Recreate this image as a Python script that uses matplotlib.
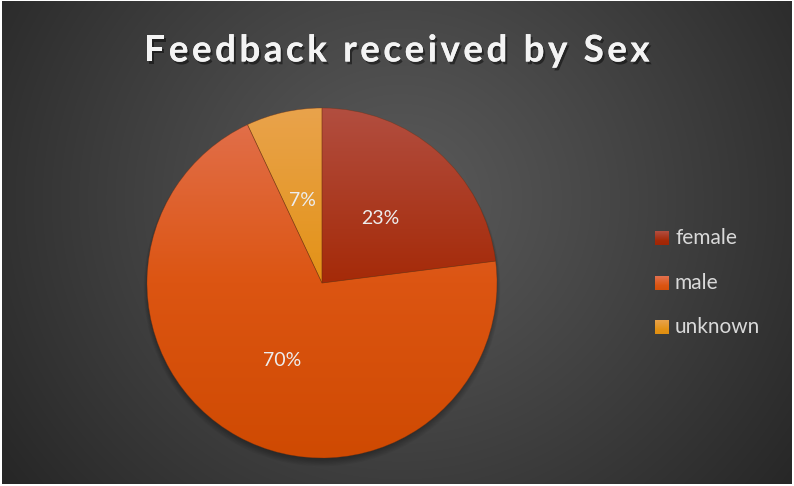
import numpy as np
import matplotlib
matplotlib.use("Agg")
import matplotlib.pyplot as plt
from matplotlib.colors import LinearSegmentedColormap, to_rgb
from matplotlib.patches import Circle, Rectangle
import matplotlib.patheffects as pe

# ---- data ----
categories = ["female", "male", "unknown"]
values = [23, 70, 7]
labels_pct = ["23%", "70%", "7%"]
title = "Feedback received by Sex"

# gradient colours per slice (top, middle, bottom)
grad_colors = [
    ("#B24E40", "#A52A08", "#9C2000"),
    ("#E2714F", "#DC5512", "#CF4A02"),
    ("#E9A34C", "#E39216", "#DC8A0C"),
]

W, H = 794, 486
fig = plt.figure(figsize=(W / 100, H / 100), dpi=100, facecolor="white")
ax = fig.add_axes([0, 0, 1, 1])
ax.set_xlim(0, W)
ax.set_ylim(0, H)
ax.axis("off")

# ---- background radial gradient ----
yy, xx = np.mgrid[0:H, 0:W]
cx, cy = 400, 200  # in image row coords (from top)
r = np.sqrt(((xx - cx) / 1.0) ** 2 + ((yy - cy) / 0.95) ** 2)
t = np.clip(r / 520, 0, 1)
inner, outer = 0x5a / 255, 0x24 / 255
val = inner + (outer - inner) * t ** 1.1
bg = np.dstack([val, val, val])
ax.imshow(bg, extent=(2, W - 2, 2, H - 2), origin="upper", zorder=0, aspect="auto")

# ---- pie ----
center = (322, H - 283)
radius = 175

# soft shadow (mostly below the pie)
for k in range(7):
    ax.add_patch(Circle((center[0], center[1] - 2 - k * 0.5), radius - 1 + k * 0.7,
                        facecolor="black", alpha=0.045, edgecolor="none", zorder=1))

wedges, texts = ax.pie(values, center=center, radius=radius, startangle=90,
                       counterclock=False, labels=None,
                       wedgeprops=dict(linewidth=0.5, edgecolor=(0.45, 0.18, 0.05, 0.45)),
                       frame=True)
ax.set_xlim(0, W)
ax.set_ylim(0, H)
ax.set_aspect("equal")
ax.axis("off")

ext = (center[0] - radius, center[0] + radius, center[1] - radius, center[1] + radius)
cmaps = []
for w, cols in zip(wedges, grad_colors):
    w.set_facecolor("none")
    w.set_zorder(3)
    cmap = LinearSegmentedColormap.from_list("g", [to_rgb(cols[0]), to_rgb(cols[1]), to_rgb(cols[2])])
    cmaps.append(cmap)
    grad = np.linspace(0, 1, 256).reshape(-1, 1)
    im = ax.imshow(grad, cmap=cmap, extent=ext, origin="upper", aspect="auto", zorder=2)
    im.set_clip_path(w)

# percentage labels
label_pos = [(380, 218), (282, 361), (302, 200)]
for (x, y), s in zip(label_pos, labels_pct):
    ax.text(x, H - y, s, color="#EDEDED", fontsize=14, family="Lato",
            ha="center", va="center", zorder=5)

# ---- title with letter spacing ----
fig.canvas.draw()
renderer = fig.canvas.get_renderer()
tfont = dict(fontsize=26.5, family="Lato", fontweight="bold", color="#F4F4F4")
spacing = 3.5
widths = []
for ch in title:
    tt = ax.text(0, 0, ch if ch != " " else "n", **tfont)
    bb = tt.get_window_extent(renderer)
    widths.append(bb.width if ch != " " else bb.width * 0.45)
    tt.remove()
total = sum(widths) + spacing * (len(title) - 1)
x0 = 397 - total / 2
for ch, wdt in zip(title, widths):
    if ch != " ":
        ax.text(x0, H - 51, ch, ha="left", va="center", zorder=6,
                path_effects=[pe.withSimplePatchShadow(offset=(1.5, -2), shadow_rgbFace="black", alpha=0.45),
                              pe.Normal()], **tfont)
    x0 += wdt + spacing

# ---- legend ----
leg_y = [238, 283, 327]
for yv, name, cmap in zip(leg_y, categories, cmaps):
    grad = np.linspace(0, 0.75, 64).reshape(-1, 1)
    ax.imshow(grad, cmap=cmap, vmin=0, vmax=1, extent=(655, 669, H - yv - 7, H - yv + 7),
              origin="upper", aspect="auto", zorder=5)
    ax.text(675, H - yv, name, color="#D9D9D9", fontsize=15, family="Lato",
            ha="left", va="center", zorder=5)

ax.set_xlim(0, W)
ax.set_ylim(0, H)
fig.savefig("out.png", dpi=100, facecolor="white")
